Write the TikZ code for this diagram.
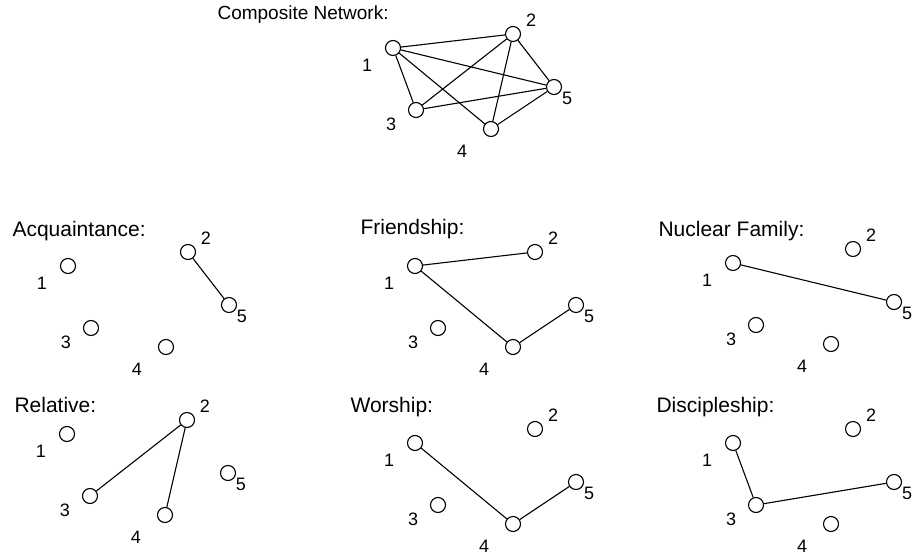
\documentclass[tikz,border=0pt]{standalone}
\usepackage{fontspec}
\setmainfont{Liberation Sans}
\usetikzlibrary{positioning}

\begin{document}
\begin{tikzpicture}[x=1pt, y=-1pt, line width=1.1pt,
        vertex/.style={circle, draw, minimum size=15pt, inner sep=0pt},
        num/.style={inner sep=0pt, font=\fontsize{18}{18}\selectfont},
        heading/.style={anchor=base west, inner sep=0pt, font=\fontsize{21}{21}\selectfont}]

        \useasboundingbox (0,0) rectangle (912,556);

        % Titles
        \node[heading, font=\fontsize{19}{19}\selectfont] (ctitle) at (217,20) {Composite Network:};
        \node[heading] (atitle) at (12,236) {Acquaintance:};
        \node[heading] (ftitle) at (360,234) {Friendship:};
        \node[heading] (ntitle) at (658,236) {Nuclear Family:};
        \node[heading] (rtitle) at (14,412) {Relative:};
        \node[heading] (wtitle) at (350,412) {Worship:};
        \node[heading] (dtitle) at (656,412) {Discipleship:};

        % Actors 1..5, same layout in every network
        \foreach \p/\x/\y in {c/393/48, a/68/266, f/415/266, n/733/263, r/67/434, w/415/443, d/733/443} {
            \node[vertex] (\p1) at (\x,\y) {};
            \node[vertex] (\p2) at (\x+120,\y-14) {};
            \node[vertex] (\p3) at (\x+23,\y+62) {};
            \node[vertex] (\p4) at (\x+98,\y+81) {};
            \node[vertex] (\p5) at (\x+161,\y+39) {};
            \node[num] (\p1txt) at (\x-26,\y+17) {1};
            \node[num] (\p2txt) at (\x+138,\y-28) {2};
            \node[num] (\p3txt) at (\x-2,\y+76) {3};
            \node[num] (\p4txt) at (\x+69,\y+103) {4};
            \node[num] (\p5txt) at (\x+174,\y+50) {5};
        }

        % Composite network
        \draw (c1) -- (c2);
        \draw (c1) -- (c3);
        \draw (c1) -- (c4);
        \draw (c1) -- (c5);
        \draw (c2) -- (c3);
        \draw (c2) -- (c4);
        \draw (c2) -- (c5);
        \draw (c3) -- (c5);
        \draw (c4) -- (c5);

        % Single relations
        \draw (a2) -- (a5);
        \draw (f1) -- (f2);
        \draw (f1) -- (f4);
        \draw (f4) -- (f5);
        \draw (n1) -- (n5);
        \draw (r2) -- (r3);
        \draw (r2) -- (r4);
        \draw (w1) -- (w4);
        \draw (w4) -- (w5);
        \draw (d1) -- (d3);
        \draw (d3) -- (d5);

    \end{tikzpicture}
\end{document}
